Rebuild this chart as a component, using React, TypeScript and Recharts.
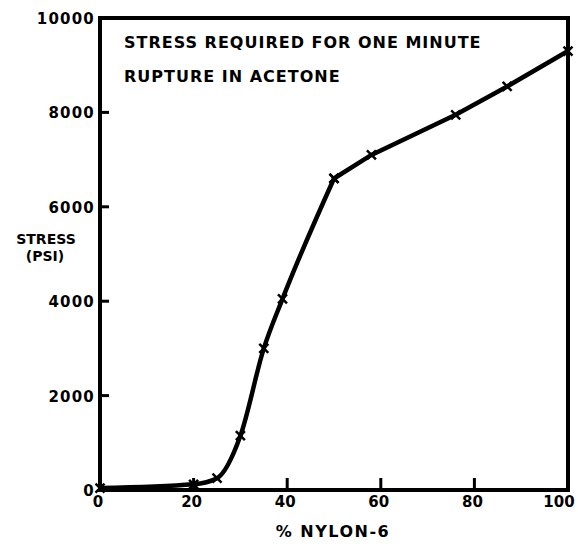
import { LineChart, Line, XAxis, YAxis, ReferenceArea } from 'recharts'

const nylonPct = [0, 20, 25, 30, 35, 39, 50, 58, 76, 87, 100]
const stressPsi = [40, 120, 250, 1150, 3000, 4050, 6600, 7100, 7950, 8550, 9300]
const xTicks = [0, 20, 40, 60, 80, 100]
const yTicks = [0, 2000, 4000, 6000, 8000, 10000]
// curve is smooth up to the knee at 50%, then straight segments
const KNEE = 6

const data = nylonPct.map((p, i) => ({
  pct: p,
  curve: i <= KNEE ? stressPsi[i] : null,
  straight: i >= KNEE ? stressPsi[i] : null,
}))

const FONT = '"DejaVu Sans", sans-serif'
const W = 578
const H = 548
const M = { top: 18, right: 10, bottom: 0, left: 0 }
const Y_AXIS_W = 100
const X_AXIS_H = 58
const PLOT_LEFT = M.left + Y_AXIS_W
const PLOT_BOTTOM = H - M.bottom - X_AXIS_H
const PLOT_W = W - M.right - PLOT_LEFT
const PLOT_H = PLOT_BOTTOM - M.top
const frame = { stroke: '#000', strokeWidth: 4 }

const XMark = (props: any) => {
  const { cx, cy, value, index } = props
  if (cx == null || cy == null || value == null) return null
  const s = 4.5
  return (
    <g key={index} stroke="#000" strokeWidth={2.5}>
      <line x1={cx - s} y1={cy - s} x2={cx + s} y2={cy + s} />
      <line x1={cx - s} y1={cy + s} x2={cx + s} y2={cy - s} />
    </g>
  )
}

const YTick = (props: any) => {
  const { y, payload } = props
  return (
    <text x={PLOT_LEFT - 5} y={y + 6} textAnchor="end" fontFamily={FONT} fontWeight="bold"
      fontSize={15} letterSpacing={1.2} fill="#000">{payload.value}</text>
  )
}

const XTick = (props: any) => {
  const { x, payload } = props
  const v = payload.value
  return (
    <text x={v === 100 ? x - 7 : x - 2} y={PLOT_BOTTOM + 17} textAnchor="middle" fontFamily={FONT} fontWeight="bold"
      fontSize={15} fill="#000">{v}</text>
  )
}

// short tick marks pointing into the plot, like the original drawing
const innerTicks = (
  <g stroke="#000" strokeWidth={3}>
    {yTicks.filter(v => v > 0 && v < 10000).map(v => {
      const y = PLOT_BOTTOM - (v / 10000) * PLOT_H
      return <line key={'y' + v} x1={PLOT_LEFT} y1={y} x2={PLOT_LEFT + 9} y2={y} />
    })}
    {xTicks.filter(v => v > 0 && v < 100).map(v => {
      const x = PLOT_LEFT + (v / 100) * PLOT_W
      return <line key={'x' + v} x1={x} y1={PLOT_BOTTOM} x2={x} y2={PLOT_BOTTOM - 12} />
    })}
  </g>
)

export default function App() {
  return (
    <div style={{ position: 'absolute', left: 0, top: 0, width: W, height: H, background: '#fff' }}>
      <LineChart width={W} height={H} data={data} margin={M}>
        <XAxis dataKey="pct" type="number" domain={[0, 100]} ticks={xTicks} height={X_AXIS_H}
          axisLine={frame} tickLine={false} tickSize={0} tickMargin={0} tick={<XTick />} />
        <YAxis type="number" domain={[0, 10000]} ticks={yTicks} width={Y_AXIS_W}
          axisLine={frame} tickLine={false} tickSize={0} tickMargin={0} tick={<YTick />} />
        <ReferenceArea x1={0} x2={100} y1={0} y2={10000} fill="none" fillOpacity={0} stroke="#000" strokeWidth={4} />
        <Line dataKey="curve" type="monotone" stroke="#000" strokeWidth={4.5} dot={<XMark />} activeDot={false} isAnimationActive={false} />
        <Line dataKey="straight" type="linear" stroke="#000" strokeWidth={4.5} dot={<XMark />} activeDot={false} isAnimationActive={false} />
        {innerTicks}
        <text x={124} y={48} fontFamily={FONT} fontWeight="bold" fontSize={16} letterSpacing={1} fill="#000">STRESS REQUIRED FOR ONE MINUTE</text>
        <text x={124} y={82} fontFamily={FONT} fontWeight="bold" fontSize={16} letterSpacing={1} fill="#000">RUPTURE IN ACETONE</text>
        <text x={46} y={244} textAnchor="middle" fontFamily={FONT} fontWeight="bold" fontSize={14} fill="#000">STRESS</text>
        <text x={45} y={261} textAnchor="middle" fontFamily={FONT} fontWeight="bold" fontSize={14} fill="#000">(PSI)</text>
        <text x={333} y={537} textAnchor="middle" fontFamily={FONT} fontWeight="bold" fontSize={16} letterSpacing={1.5} fill="#000">% NYLON-6</text>
      </LineChart>
    </div>
  )
}
